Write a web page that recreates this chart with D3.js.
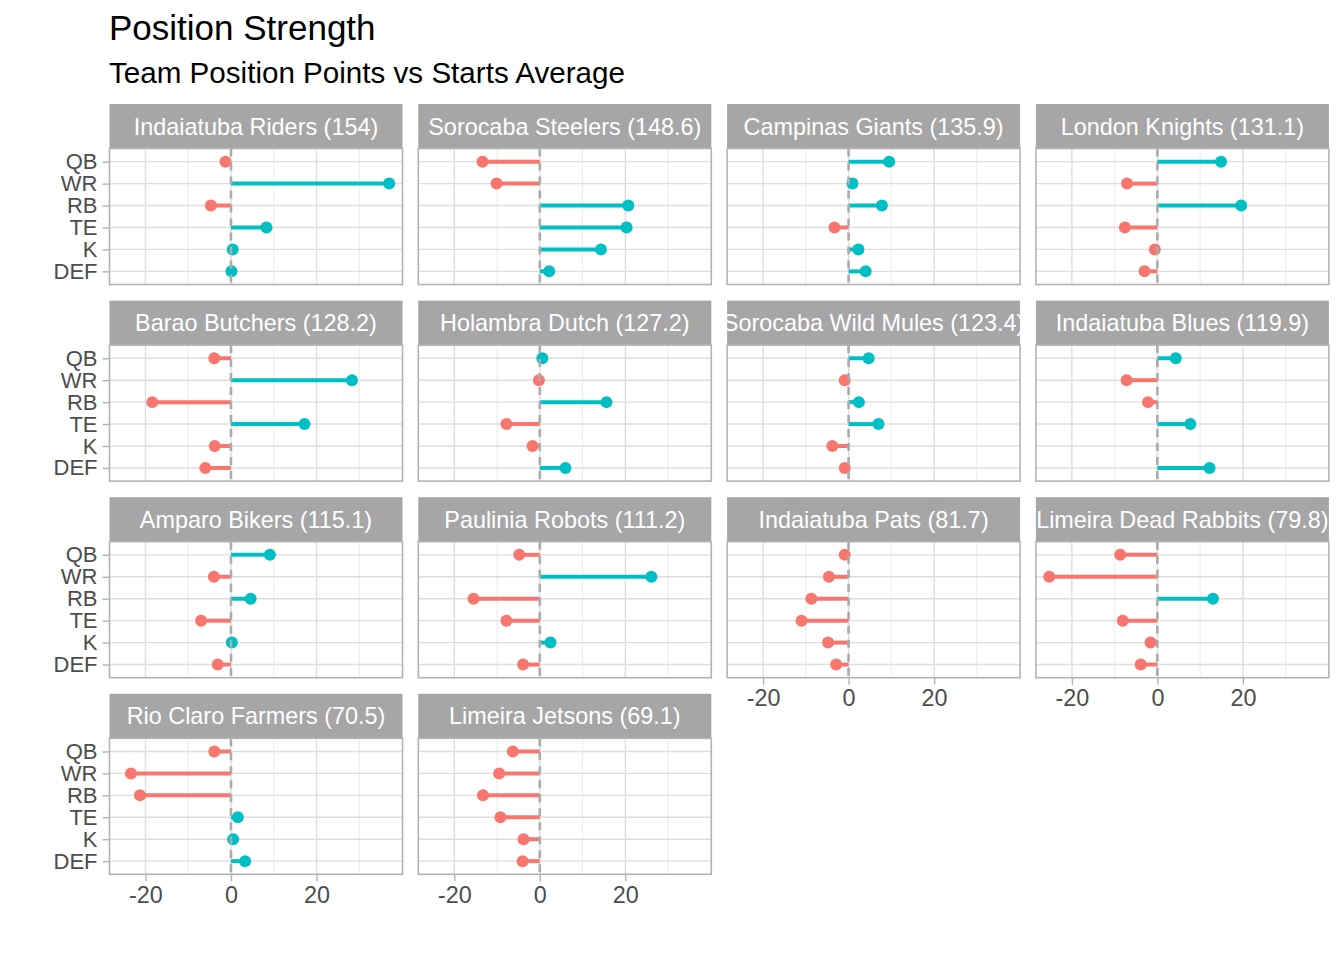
<!DOCTYPE html>
<html>
<head>
<meta charset="utf-8">
<script src="https://cdn.jsdelivr.net/npm/d3@7"></script>
<style>
  body { margin: 0; background: #fff; }
  svg text { font-family: "Liberation Sans", Arial, Helvetica, sans-serif; }
</style>
</head>
<body>
<div id="chart"></div>
<script>
/*********************************************
** Position Strength - faceted lollipop chart
** d3 v7
**********************************************/

// positions, top to bottom
var positions = ["QB", "WR", "RB", "TE", "K", "DEF"];

// facet order and the total shown in each strip
var teams = ["Indaiatuba Riders", "Sorocaba Steelers", "Campinas Giants", "London Knights",
             "Barao Butchers", "Holambra Dutch", "Sorocaba Wild Mules", "Indaiatuba Blues",
             "Amparo Bikers", "Paulinia Robots", "Indaiatuba Pats", "Limeira Dead Rabbits",
             "Rio Claro Farmers", "Limeira Jetsons"];
var totals = [154, 148.6, 135.9, 131.1, 128.2, 127.2, 123.4, 119.9,
              115.1, 111.2, 81.7, 79.8, 70.5, 69.1];

// points vs starts average, one row per team, in the order of positions
// (null = no value for that position)
var diffs = [
  [-1.3, 37.0, -4.7,   8.3,  0.4,  0.1],
  [-13.4, -10.1, 20.7, 20.3, 14.3,  2.2],
  [ 9.5,  0.9,  7.8,  -3.3,  2.3,  4.0],
  [14.9, -7.1, 19.6,  -7.6, -0.6, -3.0],
  [-3.9, 28.3, -18.4, 17.2, -3.8, -6.0],
  [ 0.6, -0.2, 15.6,  -7.8, -1.7,  6.0],
  [ 4.7, -0.9,  2.4,   7.0, -3.8, -0.9],
  [ 4.3, -7.2, -2.2,   7.7, null, 12.2],
  [ 9.1, -4.0,  4.6,  -7.0,  0.2, -3.1],
  [-4.8, 26.1, -15.5, -7.8,  2.5, -3.9],
  [-0.9, -4.6, -8.7, -11.0, -4.8, -2.9],
  [-8.7, -25.3, 13.0, -8.1, -1.6, -3.9],
  [-3.9, -23.4, -21.3,  1.6,  0.5,  3.3],
  [-6.3, -9.5, -13.3, -9.2, -3.8, -4.0]
];

var xTicks = [-20, 0, 20];
var xMinor = [-10, 10, 30];

var posColor = "#00BFC4";
var negColor = "#F8766D";

// layout
var width = 1344, height = 960;
var nCols = 4;
var left0 = 109.5, colStep = 308.8, panelW = 293;
var top0 = 104, rowStep = 196.6, stripH = 44.5, panelH = 136;

var svg = d3.select("#chart")
  .append("svg")
  .attr("width", width)
  .attr("height", height);

svg.append("text")
  .attr("x", 109)
  .attr("y", 40)
  .attr("font-size", 35)
  .attr("fill", "#000")
  .text("Position Strength");

svg.append("text")
  .attr("x", 109)
  .attr("y", 83)
  .attr("font-size", 29.6)
  .attr("fill", "#000")
  .text("Team Position Points vs Starts Average");

// shared scales (fixed across facets)
var allVals = diffs.flat().filter(function(v){ return v !== null; });
var ext = d3.extent(allVals);
var pad = (ext[1] - ext[0]) * 0.05;

var x = d3.scaleLinear()
  .domain([ext[0] - pad, ext[1] + pad])
  .range([0, panelW]);

var y = d3.scalePoint()
  .domain(positions)
  .range([0, panelH])
  .padding(0.6);

/**
* drawPanel
* [draws one facet: strip, grid, lollipops and the dashed zero line]
**/
function drawPanel(i){
  var col = i % nCols, row = Math.floor(i / nCols);
  var px = left0 + col * colStep;
  var py = top0 + row * rowStep;

  var g = svg.append("g")
    .attr("transform", "translate(" + px + "," + py + ")");

  // strip
  g.append("clipPath")
    .attr("id", "strip-clip-" + i)
    .append("rect")
    .attr("width", panelW)
    .attr("height", stripH);

  g.append("rect")
    .attr("width", panelW)
    .attr("height", stripH)
    .attr("fill", "#a6a6a6");

  g.append("text")
    .attr("clip-path", "url(#strip-clip-" + i + ")")
    .attr("x", panelW / 2)
    .attr("y", stripH / 2 + 8.4)
    .attr("text-anchor", "middle")
    .attr("font-size", 23.4)
    .attr("fill", "#ffffff")
    .text(teams[i] + " (" + totals[i] + ")");

  var p = g.append("g")
    .attr("transform", "translate(0," + stripH + ")");

  // grid
  p.selectAll(".minor")
    .data(xMinor)
    .enter()
    .append("line")
    .attr("x1", function(d){ return x(d); })
    .attr("x2", function(d){ return x(d); })
    .attr("y1", 0)
    .attr("y2", panelH)
    .attr("stroke", "#e6e6e6")
    .attr("stroke-width", 0.8);

  p.selectAll(".majorx")
    .data(xTicks)
    .enter()
    .append("line")
    .attr("x1", function(d){ return x(d); })
    .attr("x2", function(d){ return x(d); })
    .attr("y1", 0)
    .attr("y2", panelH)
    .attr("stroke", "#dedede")
    .attr("stroke-width", 1.4);

  p.selectAll(".majory")
    .data(positions)
    .enter()
    .append("line")
    .attr("x1", 0)
    .attr("x2", panelW)
    .attr("y1", function(d){ return y(d); })
    .attr("y2", function(d){ return y(d); })
    .attr("stroke", "#dedede")
    .attr("stroke-width", 1.4);

  var rows = positions.map(function(pos, j){
    return {pos: pos, v: diffs[i][j]};
  }).filter(function(d){ return d.v !== null; });

  // lollipop sticks
  p.selectAll(".stick")
    .data(rows)
    .enter()
    .append("line")
    .attr("x1", x(0))
    .attr("x2", function(d){ return x(d.v); })
    .attr("y1", function(d){ return y(d.pos); })
    .attr("y2", function(d){ return y(d.pos); })
    .attr("stroke", function(d){ return d.v >= 0 ? posColor : negColor; })
    .attr("stroke-width", 4);

  p.selectAll(".dot")
    .data(rows)
    .enter()
    .append("circle")
    .attr("cx", function(d){ return x(d.v); })
    .attr("cy", function(d){ return y(d.pos); })
    .attr("r", 6)
    .attr("fill", function(d){ return d.v >= 0 ? posColor : negColor; });

  // dashed zero line on top
  p.append("line")
    .attr("x1", x(0))
    .attr("x2", x(0))
    .attr("y1", 0)
    .attr("y2", panelH)
    .attr("stroke", "#ababab")
    .attr("stroke-width", 2.6)
    .attr("stroke-dasharray", "8,6");

  // border
  p.append("rect")
    .attr("width", panelW)
    .attr("height", panelH)
    .attr("fill", "none")
    .attr("stroke", "#b3b3b3")
    .attr("stroke-width", 1.6);

  // y axis on the first column
  if (col === 0){
    var yAxis = d3.axisLeft(y).tickSize(7).tickPadding(5);
    var ga = p.append("g").call(yAxis);
    styleAxis(ga, 22);
  }

  // x axis on the lowest panel of each column
  var below = i + nCols;
  if (below >= teams.length){
    // plain hyphen minus, as in the reference
    var xAxis = d3.axisBottom(x).tickValues(xTicks).tickSize(7).tickPadding(5)
      .tickFormat(function(d){ return String(d); });
    var gx = p.append("g")
      .attr("transform", "translate(0," + panelH + ")")
      .call(xAxis);
    styleAxis(gx, 23.4);
  }
}

function styleAxis(ga, size){
  ga.select(".domain").remove();
  ga.selectAll(".tick line")
    .attr("stroke", "#b3b3b3")
    .attr("stroke-width", 1.4);
  ga.selectAll(".tick text")
    .attr("font-size", size)
    .attr("fill", "#4d4d4d")
    .attr("font-family", "Liberation Sans, Arial, sans-serif");
}

teams.forEach(function(t, i){ drawPanel(i); });
</script>
</body>
</html>
